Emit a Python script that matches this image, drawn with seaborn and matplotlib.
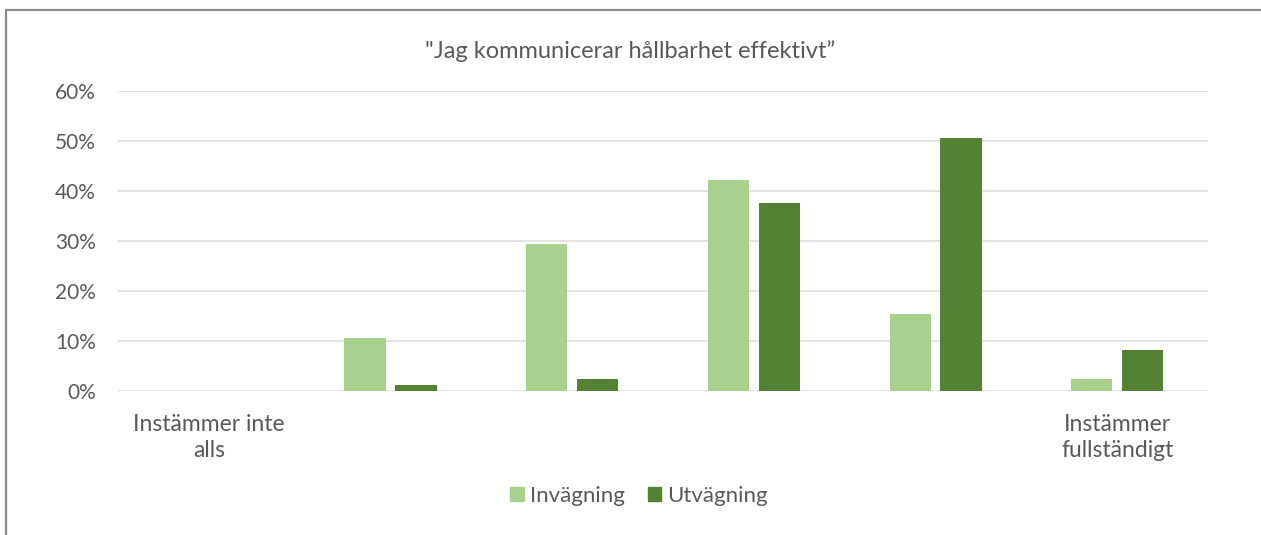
import matplotlib
matplotlib.use("Agg")
import matplotlib.pyplot as plt
import matplotlib.patches as mpatches
import pandas as pd
import seaborn as sns

# data (percent)
categories = ["Instämmer inte alls", "2", "3", "4", "5", "Instämmer fullständigt"]
tick_labels = ["Instämmer inte\nalls", "", "", "", "", "Instämmer\nfullständigt"]
invagning = [0.0, 10.5, 29.3, 42.1, 15.3, 2.3]
utvagning = [0.0, 1.1, 2.3, 37.5, 50.5, 8.1]
series = ["Invägning", "Utvägning"]
colors = ["#A9D18E", "#548235"]

df = pd.DataFrame({"kategori": categories, "Invägning": invagning, "Utvägning": utvagning})
df = df.melt(id_vars="kategori", var_name="serie", value_name="andel")

sns.set_style("white")
plt.rcParams["font.family"] = ["Lato", "DejaVu Sans"]
text_color = "#595959"

fig = plt.figure(figsize=(12.61, 5.35), dpi=100)
ax = fig.add_axes([0.0936, 0.2697, 0.8644, 0.5608])

sns.barplot(data=df, x="kategori", y="andel", hue="serie", hue_order=series,
            palette=colors, width=0.56, gap=0.19, linewidth=0, saturation=1,
            ax=ax, legend=False)

ax.set_ylim(0, 60)
ax.set_xlim(-0.5, len(categories) - 0.5)
ax.set_yticks(range(0, 61, 10))
ax.set_yticklabels([f"{v}%" for v in range(0, 61, 10)])
ax.set_xticks(range(len(categories)))
ax.set_xticklabels(tick_labels)
ax.yaxis.grid(True, color="#E3E3E3", linewidth=1.4)
ax.set_axisbelow(True)
for s in ax.spines.values():
    s.set_visible(False)
ax.tick_params(axis="y", length=0, pad=16, labelsize=15, labelcolor=text_color)
ax.tick_params(axis="x", length=0, pad=17, labelsize=16.5, labelcolor=text_color)
for lbl in ax.get_xticklabels():
    lbl.set_linespacing(1.3)
ax.set_xlabel("")
ax.set_ylabel("")

fig.text(0.5, 0.905, "\"Jag kommunicerar hållbarhet effektivt\u201d",
         ha="center", va="center", fontsize=17, color=text_color)

handles = [mpatches.Patch(color=c, label=s) for s, c in zip(series, colors)]
leg = fig.legend(handles=handles, loc="center", bbox_to_anchor=(0.507, 0.073), ncol=2,
                 frameon=False, fontsize=16, handlelength=0.6, handleheight=0.6,
                 handletextpad=0.3, columnspacing=1.0)
for t in leg.get_texts():
    t.set_color(text_color)

# chart border like the source screenshot
fig.patches.append(mpatches.Rectangle((0.005, -0.05), 1.1, 1.032, transform=fig.transFigure,
                                      fill=False, edgecolor="#8C8C8C", linewidth=1.6))

fig.savefig("out.png", dpi=100)
